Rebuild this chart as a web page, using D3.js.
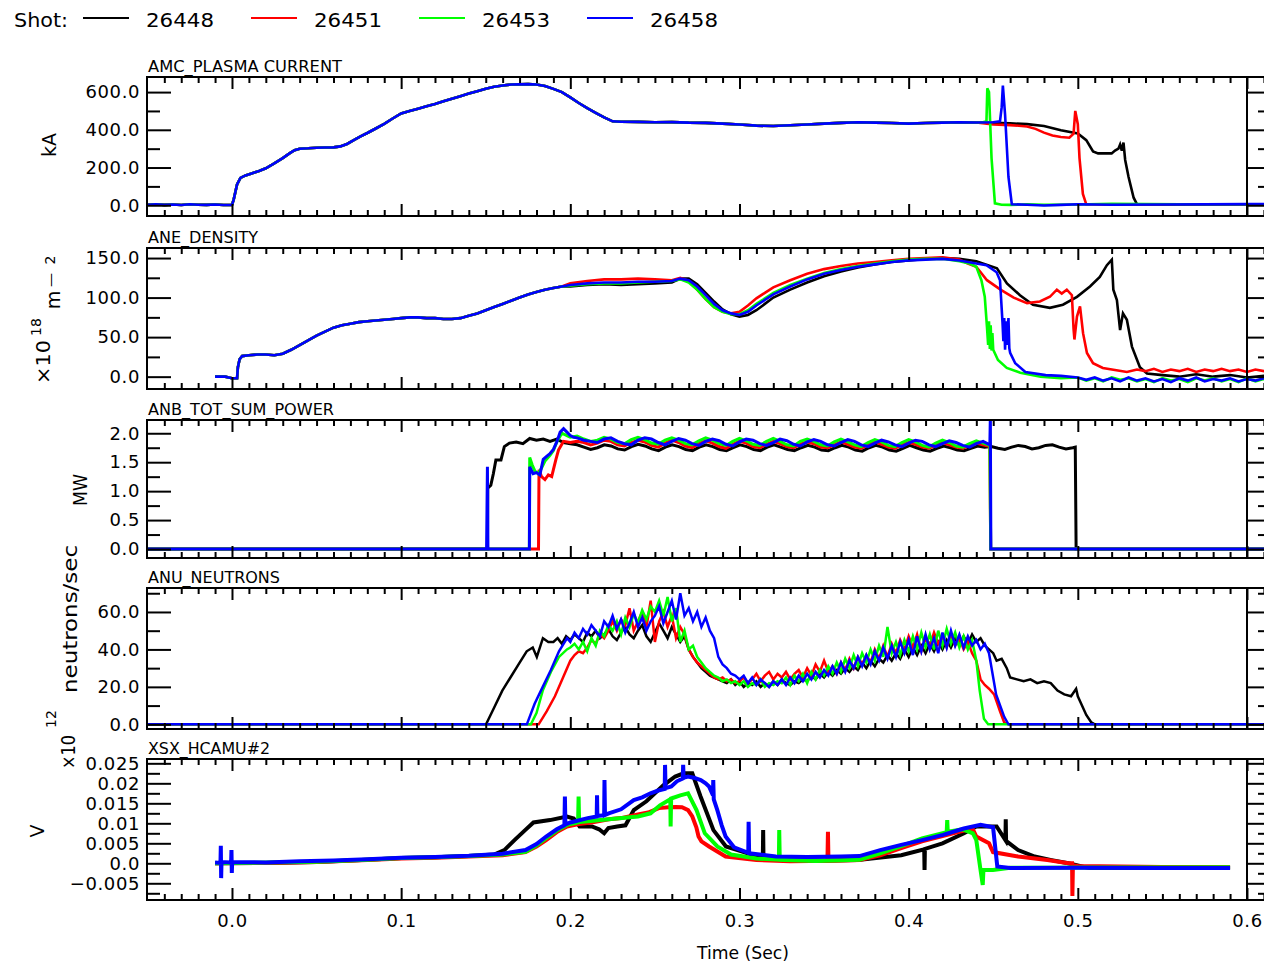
<!DOCTYPE html>
<html>
<head>
<meta charset="utf-8">
<script src="https://cdn.jsdelivr.net/npm/d3@7"></script>
<style>
  body { margin: 0; background: #fff; }
  svg text { font-family: "DejaVu Sans", "Liberation Sans", sans-serif; fill: #000; }
</style>
</head>
<body>
<svg id="chart" width="1264" height="964"></svg>
<script>
// ---------------- shots ----------------
const shots = ["26448", "26451", "26453", "26458"];
const shotColors = ["#000000", "#ff0000", "#00ff00", "#0000ff"];

// evenly sampled segment: values recorded at a fixed rate from t0 to t1
function grid(t0, t1, vals) {
  const n = vals.length;
  return vals.map((v, i) => [t0 + (t1 - t0) * i / (n - 1), v]);
}

// ---------------- AMC_PLASMA CURRENT (kA) ----------------
const ipRise = [[-0.05,3],[-0.045,5],[-0.04,2],[-0.035,4],[-0.03,1],[-0.025,5],[-0.02,3],[-0.015,2],[-0.01,4],[-0.005,1],[0.0,2],[0.001,30],[0.003,110],[0.005,145],[0.008,158],[0.012,170],[0.016,182],[0.02,196],[0.025,222],[0.03,250],[0.034,275],[0.037,292],[0.04,300],[0.045,302],[0.05,305],[0.055,306],[0.06,307],[0.064,312],[0.068,325],[0.072,345],[0.076,365],[0.08,383],[0.085,407],[0.09,432],[0.095,460],[0.1,487],[0.105,500],[0.11,512],[0.115,525],[0.12,537],[0.125,551],[0.13,565],[0.135,578],[0.14,592],[0.145,605],[0.15,618],[0.155,628],[0.16,635],[0.165,640],[0.17,641],[0.175,642],[0.18,640],[0.185,632],[0.19,617],[0.195,600],[0.2,572],[0.205,542],[0.21,515],[0.215,490],[0.22,466],[0.225,445],[0.23,443],[0.24,442],[0.25,440],[0.26,441],[0.27,438],[0.28,437],[0.29,433],[0.3,428],[0.31,422],[0.32,420],[0.33,424],[0.34,428],[0.35,433],[0.36,437],[0.37,440],[0.38,438],[0.39,436],[0.4,433],[0.41,436],[0.42,438],[0.43,440],[0.44,439]];
const ipEnd26448 = [[0.45,437],[0.46,434],[0.47,430],[0.48,420],[0.49,398],[0.5,380],[0.505,345],[0.509,285],[0.512,275],[0.52,275],[0.522,290],[0.524,300],[0.525,322],[0.526,290],[0.527,332],[0.528,240],[0.53,150],[0.533,40],[0.535,5],[0.55,3],[0.6,4],[0.615,4]];
const ipEnd26451 = [[0.45,428],[0.46,425],[0.47,418],[0.475,405],[0.48,385],[0.485,370],[0.49,362],[0.495,358],[0.4975,380],[0.4985,500],[0.5,430],[0.501,250],[0.503,60],[0.505,5],[0.52,3],[0.56,5],[0.6,5],[0.615,5]];
const ipEnd26453 = [[0.444,440],[0.446,445],[0.4465,620],[0.4475,600],[0.449,250],[0.451,10],[0.455,3],[0.46,2],[0.47,5],[0.48,2],[0.5,4],[0.52,8],[0.56,5],[0.6,5],[0.615,5]];
const ipEnd26458 = [[0.45,440],[0.454,445],[0.455,520],[0.4557,635],[0.457,480],[0.459,150],[0.461,5],[0.47,3],[0.48,-1],[0.49,2],[0.5,5],[0.52,3],[0.55,4],[0.6,6],[0.615,6]];
const ip26448 = ipRise.concat(ipEnd26448);
const ip26451 = ipRise.concat(ipEnd26451);
const ip26453 = ipRise.concat(ipEnd26453);
const ip26458 = ipRise.concat(ipEnd26458);

// ---------------- ANE_DENSITY (1e18 m^-2) ----------------
const neRise = [[-0.01,0],[-0.004,0],[-0.002,-1],[0.0,-2],[0.003,-2],[0.0035,12],[0.0045,22],[0.006,26],[0.01,27],[0.015,28],[0.02,28],[0.025,27],[0.03,29],[0.035,34],[0.04,40],[0.045,46],[0.05,52],[0.055,57],[0.06,62],[0.065,65],[0.07,67],[0.075,69],[0.08,70],[0.085,71],[0.09,72],[0.095,73],[0.1,74],[0.105,75],[0.11,75],[0.115,74],[0.12,74],[0.125,73],[0.13,73],[0.135,74],[0.14,77],[0.145,80],[0.15,84],[0.155,88],[0.16,92],[0.165,96],[0.17,100],[0.175,104],[0.18,107],[0.185,110],[0.19,112],[0.195,114]];
const neEnd26448 = [[0.2,114],[0.21,116],[0.22,117],[0.23,116],[0.24,117],[0.25,118],[0.26,119],[0.265,124],[0.27,124],[0.275,117],[0.28,106],[0.285,95],[0.29,85],[0.295,79],[0.3,76],[0.305,78],[0.31,84],[0.315,92],[0.32,100],[0.33,110],[0.34,119],[0.35,127],[0.36,133],[0.37,138],[0.38,142],[0.39,145],[0.4,147],[0.41,149],[0.42,150],[0.43,149],[0.44,146],[0.4522,137],[0.4581,118],[0.4658,103],[0.4735,91],[0.4835,87],[0.4912,91],[0.4995,101],[0.5072,114],[0.513,126],[0.5172,141],[0.5201,148],[0.521,110],[0.5231,97],[0.525,59],[0.5267,80],[0.529,72],[0.532,38],[0.5367,12],[0.5409,4],[0.55,2],[0.56,0],[0.57,3],[0.58,0],[0.59,2],[0.6,-1],[0.61,1],[0.615,0]];
const neEnd26451 = [[0.2,118],[0.21,121],[0.22,123],[0.23,123],[0.24,124],[0.25,123],[0.26,122],[0.265,125],[0.27,121],[0.275,110],[0.28,98],[0.285,88],[0.29,82],[0.295,80],[0.3,82],[0.305,90],[0.31,99],[0.315,106],[0.32,113],[0.33,122],[0.34,130],[0.35,136],[0.36,140],[0.37,143],[0.38,145],[0.39,147],[0.4,149],[0.41,150],[0.42,151],[0.43,148],[0.435,143],[0.44,139],[0.4463,122],[0.4543,110],[0.4621,100],[0.47,93],[0.4776,95],[0.4835,101],[0.4876,110],[0.4905,105],[0.4935,110],[0.4965,103],[0.4975,60],[0.498,47],[0.4995,76],[0.5013,89],[0.5031,55],[0.5054,30],[0.509,17],[0.5148,11],[0.529,6],[0.535,9],[0.54,7],[0.545,10],[0.55,6],[0.555,9],[0.56,7],[0.565,10],[0.57,6],[0.575,9],[0.58,7],[0.585,10],[0.59,7],[0.595,9],[0.6,6],[0.605,9],[0.61,7],[0.615,9]];
const neEnd26453 = [[0.2,115],[0.21,117],[0.22,118],[0.23,118],[0.24,119],[0.25,120],[0.26,121],[0.265,123],[0.27,119],[0.275,110],[0.28,98],[0.285,88],[0.29,82],[0.295,79],[0.3,79],[0.305,84],[0.31,92],[0.315,99],[0.32,106],[0.33,116],[0.34,124],[0.35,131],[0.36,136],[0.37,140],[0.38,143],[0.39,146],[0.4,148],[0.41,149],[0.42,149],[0.43,146],[0.436,143],[0.44,139],[0.443,122],[0.445,101],[0.4463,63],[0.447,40],[0.4475,70],[0.448,35],[0.4485,65],[0.449,33],[0.4495,55],[0.45,34],[0.4528,21],[0.458,11],[0.466,5],[0.478,0],[0.49,-2],[0.5,-1],[0.505,-5],[0.51,-2],[0.515,-6],[0.52,-1],[0.525,-4],[0.53,-2],[0.535,-6],[0.54,-3],[0.545,-7],[0.55,-2],[0.555,-5],[0.56,-3],[0.565,-7],[0.57,-2],[0.575,-5],[0.58,-2],[0.585,-6],[0.59,-3],[0.595,-7],[0.6,-2],[0.605,-6],[0.61,-3],[0.615,-5]];
const neEnd26458 = [[0.2,116],[0.21,118],[0.22,119],[0.23,119],[0.24,120],[0.25,120],[0.26,121],[0.265,124],[0.27,122],[0.275,114],[0.28,103],[0.285,92],[0.29,84],[0.295,80],[0.3,78],[0.305,82],[0.31,90],[0.315,97],[0.32,104],[0.33,114],[0.34,123],[0.35,130],[0.36,135],[0.37,139],[0.38,142],[0.39,145],[0.4,147],[0.41,148],[0.42,149],[0.43,147],[0.44,143],[0.446,141],[0.452,132],[0.454,122],[0.4555,68],[0.456,45],[0.4565,74],[0.457,34],[0.4575,70],[0.458,40],[0.459,74],[0.4595,36],[0.46,30],[0.463,17],[0.469,6],[0.481,2],[0.49,1],[0.5,-1],[0.505,-4],[0.51,-1],[0.515,-5],[0.52,-2],[0.525,-6],[0.53,-1],[0.535,-5],[0.54,-2],[0.545,-6],[0.55,-3],[0.555,-7],[0.56,-2],[0.565,-5],[0.57,-1],[0.575,-6],[0.58,-3],[0.585,-5],[0.59,-2],[0.595,-6],[0.6,-3],[0.605,-5],[0.61,-2],[0.615,-4]];
const ne26448 = neRise.concat(neEnd26448);
const ne26451 = neRise.concat(neEnd26451);
const ne26453 = neRise.concat(neEnd26453);
const ne26458 = neRise.concat(neEnd26458);

// ---------------- ANB_TOT_SUM_POWER (MW) ----------------
const nbFlat26448 = [1.80,1.76,1.72,1.75,1.80,1.78,1.73,1.71,1.77,1.81,1.78,1.73,1.70,1.76,1.80,1.77,1.72,1.70,1.76,1.80,1.77,1.72,1.70,1.75,1.80,1.77,1.72,1.70,1.76,1.80,1.76,1.72,1.70,1.75,1.79,1.76,1.71,1.70,1.75,1.79,1.76,1.71,1.69,1.75,1.79,1.76,1.71,1.69,1.74,1.79,1.75,1.71,1.69,1.74,1.78,1.75,1.71,1.70,1.74,1.78,1.76,1.77,1.74,1.72,1.76,1.79,1.77,1.73,1.75,1.79,1.80,1.76,1.73,1.75];
const nbFlat26451 = [1.86,1.84,1.80,1.83,1.88,1.86,1.80,1.78,1.84,1.88,1.85,1.79,1.76,1.83,1.88,1.84,1.78,1.75,1.82,1.87,1.83,1.77,1.74,1.81,1.86,1.83,1.77,1.75,1.81,1.86,1.82,1.77,1.75,1.81,1.85,1.82,1.76,1.75,1.80,1.85,1.81,1.76,1.74,1.80,1.85,1.81,1.76,1.74,1.80,1.84,1.81,1.76,1.74,1.79,1.84,1.80,1.76,1.74,1.79,1.83,1.80,1.77];
const nbFlat26453 = [1.95,1.90,1.86,1.88,1.93,1.90,1.84,1.82,1.89,1.93,1.89,1.83,1.81,1.88,1.92,1.88,1.82,1.80,1.87,1.92,1.88,1.82,1.79,1.86,1.91,1.87,1.81,1.79,1.86,1.91,1.86,1.80,1.78,1.86,1.90,1.86,1.80,1.78,1.85,1.90,1.85,1.80,1.77,1.84,1.89,1.85,1.79,1.77,1.84,1.89,1.85,1.79,1.76,1.83,1.88,1.84,1.78,1.76,1.82,1.87,1.83,1.79];
const nbFlat26458 = [1.92,1.88,1.86,1.84,1.90,1.92,1.86,1.82,1.80,1.88,1.92,1.90,1.84,1.80,1.86,1.91,1.88,1.82,1.79,1.86,1.90,1.87,1.81,1.78,1.85,1.90,1.88,1.82,1.79,1.84,1.90,1.87,1.81,1.78,1.85,1.89,1.86,1.80,1.78,1.84,1.89,1.86,1.80,1.77,1.83,1.88,1.85,1.80,1.77,1.83,1.88,1.86,1.80,1.77,1.82,1.87,1.84,1.79,1.76,1.82,1.86,1.80];
const nb26448 = [[-0.05,0],[0.151,0],[0.1512,1.05],[0.153,1.1],[0.1545,1.3],[0.156,1.54],[0.159,1.54],[0.161,1.77],[0.164,1.83],[0.168,1.85],[0.172,1.82],[0.176,1.91],[0.18,1.88],[0.184,1.9],[0.188,1.86],[0.192,1.9],[0.196,1.84],[0.2,1.82]]
  .concat(grid(0.204, 0.497, nbFlat26448), [[0.4985,1.76],[0.499,0],[0.62,0]]);
const nb26451 = [[-0.05,0],[0.1812,0],[0.1815,1.37],[0.183,1.25],[0.185,1.2],[0.187,1.28],[0.189,1.25],[0.19,1.37],[0.1915,1.55],[0.193,1.71],[0.196,1.86],[0.2,1.84]]
  .concat(grid(0.204, 0.448, nbFlat26451), [[0.4485,0],[0.62,0]]);
const nb26453 = [[-0.05,0],[0.1758,0],[0.176,1.58],[0.1775,1.45],[0.179,1.35],[0.181,1.3],[0.183,1.4],[0.185,1.52],[0.188,1.62],[0.19,1.7],[0.192,1.85],[0.195,2.0],[0.198,1.96],[0.2,1.93]]
  .concat(grid(0.204, 0.448, nbFlat26453), [[0.4485,0],[0.62,0]]);
const nb26458 = [[-0.05,0],[0.1505,0],[0.151,1.42],[0.1513,0],[0.1758,0],[0.176,1.42],[0.178,1.3],[0.18,1.32],[0.182,1.28],[0.184,1.55],[0.186,1.6],[0.188,1.65],[0.19,1.72],[0.192,1.85],[0.194,2.02],[0.196,2.08],[0.198,2.02],[0.2,1.96],[0.202,1.93]]
  .concat(grid(0.204, 0.448, nbFlat26458), [[0.4483,2.3],[0.4486,0],[0.62,0]]);

// ---------------- ANU_NEUTRONS (1e12 n/s) ----------------
const nuFlat26448 = [44,46,43,47,45,48,46,44,49,47, 50,46,48,51,47,45,49,52,48,46, 50,53,47,44,49,54,50,46,52,48, 44,47,40,36,33,30,28,26,25,24, 23,22,24,21,23,20,22,21,23,20, 22,20,23,21,24,22,21,23,22,24, 23,26,24,27,25,28,26,29,27,30, 28,31,29,33,30,34,31,35,33,37, 34,38,35,40,36,41,37,42,38,43, 39,44,40,45,41,46,42,47,43,48, 44,46,42,40];
const nuFlat26451 = [34,37,39,38,41,45,43,48,46,50, 55,50,56,53,62,50,55,60,52,66, 44,55,60,52,58,46,52,48,40,36, 33,31,29,27,25,24,25,23,24,22, 23,25,22,24,27,23,26,28,24,27, 25,28,24,27,29,25,30,26,32,28, 34,28,31,27,33,29,35,30,36,32, 37,33,40,35,42,36,43,38,45,40, 47,41,48,39,46,42,49,43,47,41, 48,42,46,40,44,38,34,24,21,19];
const nuFlat26453 = [41,43,40,44,39,46,42,50,47,53, 50,55,48,57,52,59,54,61,56,63, 60,66,58,68,55,62,44,50,40,42, 36,33,30,28,26,25,23,24,22,23, 21,23,20,22,21,24,20,22,21,23, 22,25,21,26,23,27,22,28,24,29, 26,31,27,33,28,35,30,37,31,38, 33,40,34,42,36,52,38,44,37,45, 39,47,40,49,41,48,40,50,42,51, 43,49,41,47,40,45];
const nuFlat26458 = [44,49,46,51,48,53,50,47,55,52, 58,51,56,49,54,60,52,57,50,55, 58,63,54,60,66,56,70,58,62,55, 60,52,57,50,46,36,32,30,27,26, 24,26,22,25,21,24,22,20,23,21, 24,21,25,22,26,23,27,24,28,25, 29,26,31,27,33,28,34,30,36,31, 37,32,39,34,41,35,42,36,44,38, 45,37,47,39,48,40,46,38,49,41, 50,42,48,41,47,42,45,40,43,38];
const nu26448 = [[-0.05,0],[0.1502,0],[0.155,9],[0.1598,18],[0.1646,25],[0.1694,32],[0.1742,39],[0.1778,41],[0.1802,36],[0.1838,46],[0.187,44]]
  .concat(grid(0.19, 0.4475, nuFlat26448), [[0.45,38],[0.452,34],[0.455,35],[0.458,30],[0.46,25],[0.464,24],[0.468,23],[0.472,24],[0.476,22],[0.48,23],[0.484,22],[0.488,18],[0.492,16],[0.496,15],[0.499,19],[0.5,15],[0.502,11],[0.505,5],[0.508,1],[0.51,0],[0.62,0]]);
const nu26451 = [[-0.05,0],[0.1813,0],[0.1861,7],[0.1909,15],[0.1957,25]]
  .concat(grid(0.2, 0.4475, nuFlat26451), [[0.4505,16],[0.4517,13],[0.454,7],[0.4565,1],[0.459,0],[0.62,0]]);
const nu26453 = [[-0.05,0],[0.1767,0],[0.18,6],[0.1837,18],[0.1885,28],[0.1933,36],[0.198,40]]
  .concat(grid(0.2, 0.4375, nuFlat26453), [[0.44,34],[0.442,18],[0.4445,3],[0.447,0],[0.62,0]]);
const nu26458 = [[-0.05,0],[0.1743,0],[0.1789,11],[0.1837,20],[0.1885,29],[0.1933,39],[0.1981,46]]
  .concat(grid(0.2, 0.4475, nuFlat26458), [[0.4517,16],[0.4565,4],[0.459,0],[0.62,0]]);

// ---------------- XSX_HCAMU#2 (V) ----------------
const sx26448 = [[-0.01,0.0],[0.02,0.0001],[0.05,0.0003],[0.08,0.0009],[0.1,0.0013],[0.12,0.0015],[0.14,0.0018],[0.155,0.0022],[0.161,0.0033],[0.167,0.0058],[0.1733,0.0083],[0.1782,0.0102],[0.188,0.0108],[0.198,0.0117],[0.202,0.0112],[0.2055,0.0092],[0.2128,0.0092],[0.217,0.0085],[0.22,0.0075],[0.2225,0.0088],[0.2277,0.0092],[0.2326,0.0095],[0.2375,0.0133],[0.245,0.0155],[0.255,0.0195],[0.262,0.0217],[0.267,0.0225],[0.2721,0.0225],[0.277,0.0167],[0.2846,0.0083],[0.292,0.0042],[0.3017,0.0029],[0.3138,0.0012],[0.314,0.0083],[0.3142,0.0011],[0.33,0.0008],[0.35,0.0007],[0.37,0.0008],[0.3956,0.002],[0.4092,0.0035],[0.4094,-0.0017],[0.4096,0.0036],[0.42,0.005],[0.4327,0.0075],[0.44,0.0092],[0.452,0.0092],[0.4572,0.0058],[0.4574,0.011],[0.4576,0.0056],[0.4647,0.0033],[0.4745,0.0017],[0.4845,0.0008],[0.4944,0.0],[0.5067,-0.0012],[0.59,-0.0012]];
const sx26451 = [[-0.01,0],[0.02,0.0001],[0.05,0.0003],[0.08,0.0008],[0.1,0.0012],[0.12,0.0014],[0.14,0.0017],[0.16,0.002],[0.1735,0.0028],[0.18,0.0042],[0.1857,0.0058],[0.192,0.0078],[0.198,0.0092],[0.205,0.0098],[0.2125,0.0102],[0.2227,0.011],[0.23,0.0113],[0.24,0.0122],[0.246,0.0127],[0.2523,0.0138],[0.258,0.014],[0.2622,0.0141],[0.266,0.014],[0.2696,0.0133],[0.2721,0.0117],[0.2745,0.009],[0.2758,0.0067],[0.2775,0.0055],[0.282,0.0042],[0.2918,0.0017],[0.31,0.0008],[0.33,0.0005],[0.352,0.0006],[0.3523,0.0079],[0.3526,0.0006],[0.3709,0.0008],[0.3832,0.002],[0.3956,0.0038],[0.4079,0.0055],[0.42,0.0068],[0.4326,0.0082],[0.438,0.0085],[0.44,0.0067],[0.4475,0.005],[0.4499,0.0028],[0.4647,0.0017],[0.482,0.0008],[0.4944,0.0],[0.4966,0.0],[0.4968,-0.0082],[0.4971,-0.0005],[0.5,-0.0007],[0.55,-0.0009],[0.59,-0.0009]];
const sx26453 = [[-0.01,0],[0.02,0.0002],[0.05,0.0004],[0.08,0.0009],[0.1,0.0013],[0.12,0.0015],[0.14,0.0018],[0.16,0.0022],[0.1735,0.0029],[0.18,0.0045],[0.1857,0.0063],[0.192,0.0082],[0.198,0.0096],[0.2046,0.0102],[0.2049,0.0167],[0.2052,0.0103],[0.2227,0.011],[0.24,0.0117],[0.2474,0.0125],[0.253,0.0145],[0.2591,0.016],[0.2593,0.0092],[0.2596,0.0162],[0.265,0.017],[0.2696,0.0175],[0.2746,0.0133],[0.2795,0.0075],[0.2869,0.0042],[0.295,0.0022],[0.31,0.0012],[0.3233,0.0009],[0.3235,0.0083],[0.3238,0.0009],[0.345,0.0006],[0.3709,0.0009],[0.3832,0.0025],[0.3956,0.0043],[0.4079,0.0062],[0.4225,0.0078],[0.4228,0.0108],[0.4231,0.0079],[0.432,0.0085],[0.438,0.0075],[0.44,0.0058],[0.4425,-0.0017],[0.4438,-0.0054],[0.4442,-0.0017],[0.4499,-0.0017],[0.46,-0.0011],[0.59,-0.001]];
const sx26458 = [[-0.01,0.0002],[-0.0068,0.0001],[-0.0066,0.0044],[-0.0064,-0.0037],[-0.0062,0.0003],[-0.0005,0.0002],[-0.0003,0.0033],[-0.0001,-0.0024],[0.0001,0.0003],[0.02,0.0002],[0.04,0.0005],[0.06,0.0007],[0.08,0.001],[0.1,0.0014],[0.12,0.0016],[0.14,0.0019],[0.16,0.0024],[0.1735,0.0033],[0.18,0.0048],[0.1857,0.0067],[0.192,0.0085],[0.1965,0.0095],[0.1968,0.0167],[0.1971,0.0097],[0.2,0.0102],[0.2103,0.0113],[0.2156,0.0117],[0.2158,0.017],[0.216,0.0118],[0.22,0.012],[0.2202,0.0208],[0.2205,0.0121],[0.2227,0.0125],[0.23,0.0135],[0.2375,0.0158],[0.2425,0.0165],[0.2474,0.0175],[0.252,0.0182],[0.2558,0.0186],[0.256,0.0246],[0.2563,0.0188],[0.2597,0.0192],[0.263,0.0205],[0.2665,0.0212],[0.2667,0.0246],[0.267,0.0214],[0.2696,0.0217],[0.273,0.0214],[0.2771,0.0208],[0.28,0.02],[0.282,0.0192],[0.2843,0.017],[0.2845,0.0208],[0.2848,0.016],[0.2869,0.0133],[0.2895,0.0095],[0.2918,0.0067],[0.2968,0.004],[0.3052,0.0026],[0.3054,0.0104],[0.3057,0.0025],[0.3215,0.0017],[0.34,0.0016],[0.36,0.0017],[0.3709,0.0018],[0.3832,0.0033],[0.3956,0.0046],[0.4079,0.0058],[0.4203,0.0071],[0.4326,0.0087],[0.4425,0.0096],[0.4499,0.009],[0.4524,-0.0008],[0.46,-0.0012],[0.5,-0.0011],[0.55,-0.0012],[0.59,-0.0012]];

// ---------------- ticks ----------------
const timeTicks = [0, 0.1, 0.2, 0.3, 0.4, 0.5, 0.6];
const timeTickLabels = ["0.0", "0.1", "0.2", "0.3", "0.4", "0.5", "0.6"];
const ipTicks = [0, 200, 400, 600], ipTickLabels = ["0.0", "200.0", "400.0", "600.0"], ipMinor = [100, 300, 500];
const neTicks = [0, 50, 100, 150], neTickLabels = ["0.0", "50.0", "100.0", "150.0"], neMinor = [25, 75, 125];
const nbTicks = [0, 0.5, 1, 1.5, 2], nbTickLabels = ["0.0", "0.5", "1.0", "1.5", "2.0"], nbMinor = [0.25, 0.75, 1.25, 1.75];
const nuTicks = [0, 20, 40, 60], nuTickLabels = ["0.0", "20.0", "40.0", "60.0"], nuMinor = [10, 30, 50, 70];
const sxTicks = [-0.005, 0, 0.005, 0.01, 0.015, 0.02, 0.025];
const sxTickLabels = ["\u22120.005", "0.0", "0.005", "0.01", "0.015", "0.02", "0.025"];
const sxMinor = [-0.0075, -0.0025, 0.0025, 0.0075, 0.0125, 0.0175, 0.0225];

// ---------------- layout ----------------
const FRAME_L = 147, FRAME_R = 1271;
const svg = d3.select("#chart");
const x = d3.scaleLinear().domain([-0.05, 0.6142]).range([147.4, 1271]);
const timeMinor = d3.range(-4, 62).map(k => k / 100).filter(t => Math.abs(t * 10 - Math.round(t * 10)) > 1e-6);

const panels = [
  { title: "AMC_PLASMA CURRENT", titleW: 194, top: 77, bottom: 216, dom: [-57, 680],
    series: [ip26448, ip26451, ip26453, ip26458], ticks: ipTicks, labels: ipTickLabels, minor: ipMinor, sw: 2.6 },
  { title: "ANE_DENSITY", titleW: 110, top: 248, bottom: 389, dom: [-15.6, 162.7],
    series: [ne26448, ne26451, ne26453, ne26458], ticks: neTicks, labels: neTickLabels, minor: neMinor, sw: 2.6 },
  { title: "ANB_TOT_SUM_POWER", titleW: 186, top: 420, bottom: 558, dom: [-0.155, 2.229],
    series: [nb26448, nb26451, nb26453, nb26458], ticks: nbTicks, labels: nbTickLabels, minor: nbMinor, sw: 3 },
  { title: "ANU_NEUTRONS", titleW: 132, top: 588, bottom: 729, dom: [-2.5, 72.8],
    series: [nu26448, nu26451, nu26453, nu26458], ticks: nuTicks, labels: nuTickLabels, minor: nuMinor, sw: 2.5 },
  { title: "XSX_HCAMU#2", titleW: 122, top: 759, bottom: 900, dom: [-0.00918, 0.02608],
    series: [sx26448, sx26451, sx26453, sx26458], ticks: sxTicks, labels: sxTickLabels, minor: sxMinor, sw: 4 }
];

const tickOnly = sel => {
  sel.select(".domain").remove();
  sel.selectAll("text").remove();
  sel.selectAll(".tick line").attr("stroke", "#000").attr("stroke-width", 2);
};

panels.forEach((p, pi) => {
  const y = d3.scaleLinear().domain(p.dom).range([p.bottom, p.top]);
  const g = svg.append("g").attr("class", "panel");

  svg.append("clipPath").attr("id", "clip" + pi)
    .append("rect").attr("x", FRAME_L).attr("y", p.top)
    .attr("width", FRAME_R - FRAME_L).attr("height", p.bottom - p.top);

  // traces
  const line = d3.line().x(d => x(d[0])).y(d => y(d[1]));
  const lg = g.append("g").attr("clip-path", `url(#clip${pi})`);
  p.series.forEach((s, si) => {
    lg.append("path").attr("d", line(s)).attr("fill", "none")
      .attr("stroke", shotColors[si]).attr("stroke-width", p.sw)
      .attr("stroke-linejoin", "miter").attr("stroke-linecap", "butt");
  });

  // time ticks, bottom and top, pointing inward
  g.append("g").attr("transform", `translate(0,${p.bottom})`)
    .call(d3.axisBottom(x).tickValues(timeTicks).tickSize(-12)).call(tickOnly);
  g.append("g").attr("transform", `translate(0,${p.bottom})`)
    .call(d3.axisBottom(x).tickValues(timeMinor).tickSize(-6)).call(tickOnly);
  g.append("g").attr("transform", `translate(0,${p.top})`)
    .call(d3.axisTop(x).tickValues(timeTicks).tickSize(-12)).call(tickOnly);
  g.append("g").attr("transform", `translate(0,${p.top})`)
    .call(d3.axisTop(x).tickValues(timeMinor).tickSize(-6)).call(tickOnly);

  // value ticks, left and right, pointing inward
  g.append("g").attr("transform", `translate(${FRAME_L},0)`)
    .call(d3.axisLeft(y).tickValues(p.ticks).tickSize(-24)).call(tickOnly);
  g.append("g").attr("transform", `translate(${FRAME_L},0)`)
    .call(d3.axisLeft(y).tickValues(p.minor).tickSize(-13)).call(tickOnly);
  g.append("g").attr("transform", `translate(${FRAME_R},0)`)
    .call(d3.axisRight(y).tickValues(p.ticks).tickSize(-24)).call(tickOnly);
  g.append("g").attr("transform", `translate(${FRAME_R},0)`)
    .call(d3.axisRight(y).tickValues(p.minor).tickSize(-13)).call(tickOnly);

  // full-height marker at t = 0.6
  g.append("line").attr("x1", x(0.6)).attr("x2", x(0.6)).attr("y1", p.top).attr("y2", p.bottom)
    .attr("stroke", "#000").attr("stroke-width", 2);

  // frame
  g.append("rect").attr("x", FRAME_L).attr("y", p.top)
    .attr("width", FRAME_R - FRAME_L).attr("height", p.bottom - p.top)
    .attr("fill", "none").attr("stroke", "#000").attr("stroke-width", 2);

  // value labels
  g.append("g").attr("transform", `translate(${FRAME_L},0)`)
    .call(d3.axisLeft(y).tickValues(p.ticks).tickFormat((d, i) => p.labels[i]).tickSize(0).tickPadding(7))
    .call(s => {
      s.select(".domain").remove();
      s.selectAll(".tick line").remove();
      s.attr("font-family", null).attr("font-size", null);
      s.selectAll("text").attr("font-size", 18).attr("letter-spacing", 0.6).attr("fill", "#000");
    });

  // panel title
  g.append("text").attr("x", FRAME_L + 1).attr("y", p.top - 5)
    .attr("font-size", 15).attr("textLength", p.titleW).attr("lengthAdjust", "spacingAndGlyphs")
    .text(p.title);

  // time labels on the bottom panel
  if (pi === panels.length - 1) {
    g.append("g").attr("transform", `translate(0,${p.bottom})`)
      .call(d3.axisBottom(x).tickValues(timeTicks).tickFormat((d, i) => timeTickLabels[i]).tickSize(0).tickPadding(14))
      .call(s => {
        s.select(".domain").remove();
        s.selectAll(".tick line").remove();
        s.attr("font-family", null).attr("font-size", null);
        s.selectAll("text").attr("font-size", 18).attr("letter-spacing", 0.6).attr("fill", "#000");
      });
  }
});

// axis titles (rotated)
function vtext(cx, cy, str, size, len) {
  const t = svg.append("text").attr("transform", `translate(${cx},${cy}) rotate(-90)`)
    .attr("text-anchor", "middle").attr("dominant-baseline", "central")
    .attr("font-size", size).text(str);
  if (len) t.attr("textLength", len).attr("lengthAdjust", "spacingAndGlyphs");
  return t;
}
vtext(49, 145, "kA", 19);
vtext(43, 362, "\u00d710", 19, 44);
vtext(36, 327, "18", 14);
vtext(53, 300, "m", 19);
vtext(50, 280, "\u2014", 14);
vtext(50, 260, "2", 14);
vtext(80, 490, "MW", 19, 32);
vtext(68, 752, "\u00d710", 19, 34);
vtext(51, 719, "12", 14);
vtext(70, 619, "neutrons/sec", 19, 148);
vtext(37, 831, "V", 19);

// time axis title
svg.append("text").attr("x", 743).attr("y", 953).attr("text-anchor", "middle")
  .attr("dominant-baseline", "central").attr("font-size", 17)
  .attr("textLength", 92).attr("lengthAdjust", "spacingAndGlyphs").text("Time (Sec)");

// legend
svg.append("text").attr("x", 14).attr("y", 27).attr("font-size", 20)
  .attr("textLength", 54).attr("lengthAdjust", "spacingAndGlyphs").text("Shot:");
const legendX = [83, 251, 419, 587];
shots.forEach((s, i) => {
  svg.append("line").attr("x1", legendX[i]).attr("x2", legendX[i] + 46).attr("y1", 18).attr("y2", 18)
    .attr("stroke", shotColors[i]).attr("stroke-width", 2);
  svg.append("text").attr("x", legendX[i] + 63).attr("y", 27).attr("font-size", 20)
    .attr("fill", shotColors[i]).attr("textLength", 68).attr("lengthAdjust", "spacingAndGlyphs").text(s);
});
</script>
</body>
</html>
